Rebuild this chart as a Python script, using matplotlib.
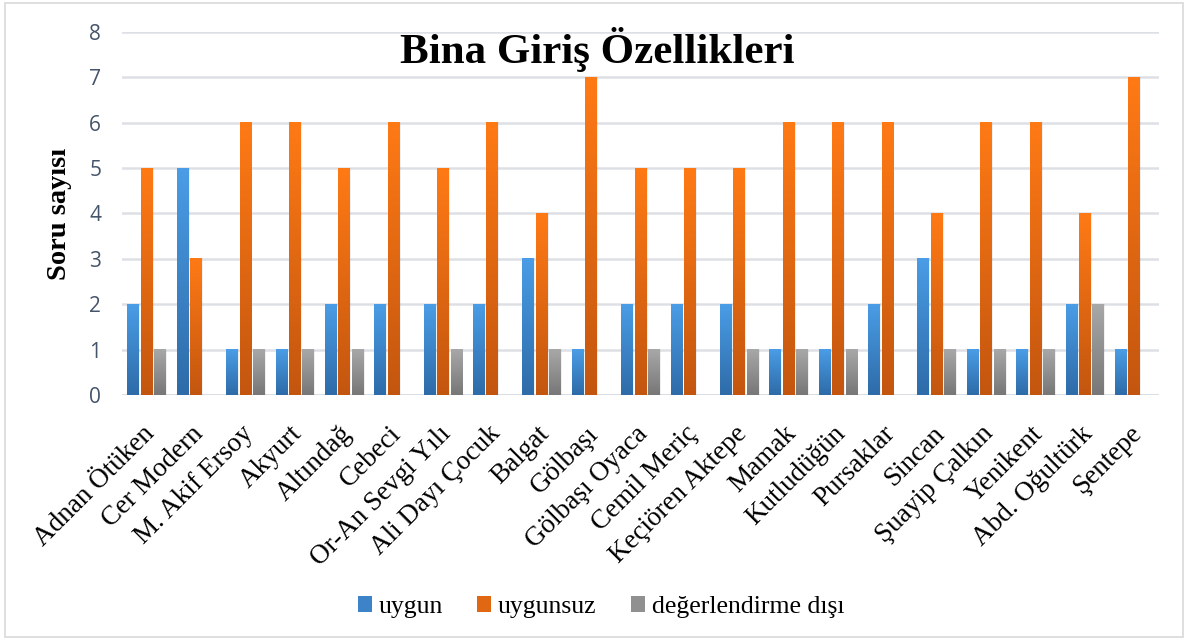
import numpy as np
import matplotlib
matplotlib.use('Agg')
import matplotlib.pyplot as plt
import matplotlib.transforms as mtransforms
from matplotlib.colors import LinearSegmentedColormap, to_rgb
from matplotlib.patches import Rectangle

categories = ['Adnan Ötüken', 'Cer Modern', 'M. Akif Ersoy', 'Akyurt', 'Altındağ',
              'Cebeci', 'Or-An Sevgi Yılı', 'Ali Dayı Çocuk', 'Balgat', 'Gölbaşı',
              'Gölbaşı Oyaca', 'Cemil Meriç', 'Keçiören Aktepe', 'Mamak', 'Kutludüğün',
              'Pursaklar', 'Sincan', 'Şuayip Çalkın', 'Yenikent', 'Abd. Oğultürk', 'Şentepe']
uygun = [2, 5, 1, 1, 2, 2, 2, 2, 3, 1, 2, 2, 2, 1, 1, 2, 3, 1, 1, 2, 1]
uygunsuz = [5, 3, 6, 6, 5, 6, 5, 6, 4, 7, 5, 5, 5, 6, 6, 6, 4, 6, 6, 4, 7]
disi = [1, 0, 1, 1, 1, 0, 1, 0, 1, 0, 1, 0, 1, 1, 1, 0, 1, 1, 1, 2, 0]
series_names = ['uygun', 'uygunsuz', 'değerlendirme dışı']
yticks = list(range(0, 9))

# (top colour, bottom colour) for each series
grads = [('#4A9DE6', '#2E6BA8'),
         ('#FF7A15', '#C3560F'),
         ('#A8A8A8', '#777777')]

serif = ['Liberation Serif', 'DejaVu Serif']

fig = plt.figure(figsize=(11.9, 6.41), dpi=100)
ax = fig.add_axes([0.1025, 0.384, 0.8714, 0.566])

x = np.arange(len(categories))
w = 0.272
offsets = [-w, 0, w]
inset = 0.018
grad = np.linspace(0, 1, 256).reshape(-1, 1)

for vals, off, (top, bot), name in zip([uygun, uygunsuz, disi], offsets, grads, series_names):
    cmap = LinearSegmentedColormap.from_list(name, [bot, top])
    bars = ax.bar(x + off, vals, width=w, color='none', edgecolor='none', label=name, zorder=2)
    for b in bars:
        h = b.get_height()
        if h <= 0:
            continue
        x0 = b.get_x()
        x1 = x0 + b.get_width()
        ax.imshow(grad, cmap=cmap, origin='lower', aspect='auto',
                  extent=(x0 + inset, x1 - inset, 0, h),
                  interpolation='bilinear', zorder=3)
        # soft shadow on the right side
        ax.add_patch(Rectangle((x1 - inset, 0), 0.025, h,
                               facecolor='#000000', alpha=0.06, edgecolor='none', zorder=2))

ax.set_xlim(-0.5, len(categories) - 0.5)
ax.set_ylim(0, 8)
ax.set_yticks(yticks)
ax.grid(axis='y', color='#DDE0E5', linewidth=1.8, zorder=0)
ax.set_axisbelow(True)
for s in ax.spines.values():
    s.set_visible(False)
ax.axhline(0, color='#D9DCE1', linewidth=2, zorder=1)
ax.tick_params(length=0)
ax.tick_params(axis='y', pad=15, labelsize=15, labelcolor='#44546A')
for t in ax.get_yticklabels():
    t.set_family('Open Sans')

ax.set_xticks(x)
ax.set_xticklabels(categories, rotation=45, ha='right', va='top',
                   rotation_mode='anchor', family=serif, fontsize=19.5)
ax.tick_params(axis='x', pad=19)
shift = mtransforms.ScaledTranslation(-5 / 100, 0, fig.dpi_scale_trans)
for t in ax.get_xticklabels():
    t.set_transform(t.get_transform() + shift)

ax.set_ylabel('Soru sayısı', family=serif, fontweight='bold', fontsize=20.5, labelpad=12)

fig.text(0.502, 0.922, 'Bina Giriş Özellikleri', ha='center', va='center',
         family=serif, fontweight='bold', fontsize=31)

mid = [tuple((np.array(to_rgb(a)) + np.array(to_rgb(b))) / 2) for a, b in grads]
handles = [Rectangle((0, 0), 1, 1, facecolor=c) for c in mid]
leg = fig.legend(handles, series_names, loc='center', bbox_to_anchor=(0.505, 0.053),
                 ncol=3, frameon=False, prop={'family': serif, 'size': 18.5},
                 handlelength=0.55, handleheight=0.55, handletextpad=0.25, columnspacing=1.35)

fig.patches.append(Rectangle((0.004, 0.006), 0.99, 0.989, transform=fig.transFigure,
                             fill=False, edgecolor='#D9D9D9', linewidth=1.2))

fig.savefig('out.png', dpi=100)
